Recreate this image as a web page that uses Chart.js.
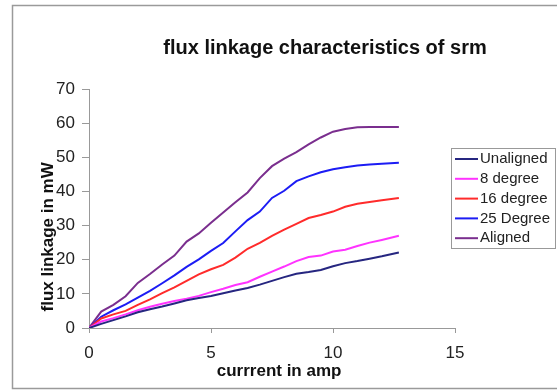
<!DOCTYPE html>
<html>
<head>
<meta charset="utf-8">
<script src="https://cdn.jsdelivr.net/npm/chart.js@4.4.0/dist/chart.umd.min.js"></script>
<style>
  html, body { margin: 0; padding: 0; background: #fff; overflow: hidden; width: 557px; height: 392px; }
  #wrap { position: absolute; left: 0; top: 0; width: 650px; height: 392px; }
</style>
</head>
<body>
<div id="wrap"><canvas id="fluxChart" width="650" height="392"></canvas></div>
<script>
// current in amp (x values shared by every curve)
const current = [0, 0.5, 1, 1.5, 2, 2.5, 3, 3.5, 4, 4.5, 5, 5.5, 6, 6.5, 7, 7.5, 8, 8.5, 9, 9.5, 10, 10.5, 11, 11.5, 12, 12.7];

// flux linkage in mW
const unaligned = [0, 1.2, 2.3, 3.4, 4.6, 5.5, 6.3, 7.2, 8.1, 8.8, 9.4, 10.2, 11.0, 11.7, 12.7, 13.8, 14.9, 15.9, 16.4, 17.0, 18.1, 19.0, 19.6, 20.3, 21.0, 22.1];
const deg8      = [0, 1.9, 2.9, 4.0, 5.2, 6.2, 7.1, 7.9, 8.6, 9.4, 10.5, 11.5, 12.6, 13.4, 15.0, 16.5, 18.0, 19.6, 20.8, 21.2, 22.4, 22.9, 24.0, 25.0, 25.8, 27.0];
const deg16     = [0, 2.8, 4.0, 5.0, 6.8, 8.4, 10.2, 11.9, 13.8, 15.7, 17.2, 18.5, 20.6, 23.2, 24.9, 27.0, 28.8, 30.5, 32.2, 33.1, 34.1, 35.5, 36.4, 36.9, 37.4, 38.1];
const deg25     = [0, 3.3, 5.2, 6.9, 8.9, 10.9, 13.1, 15.4, 17.9, 20.1, 22.6, 24.9, 28.3, 31.6, 34.1, 38.1, 40.2, 43.0, 44.4, 45.6, 46.5, 47.1, 47.6, 47.9, 48.1, 48.4];
const aligned   = [0, 4.8, 6.8, 9.3, 13.2, 15.8, 18.6, 21.2, 25.3, 27.7, 30.8, 33.8, 36.8, 39.7, 43.9, 47.4, 49.6, 51.5, 53.8, 55.8, 57.5, 58.3, 58.8, 58.9, 58.9, 58.9];

const seriesNames = ['Unaligned', '8 degree', '16 degree', '25 Degree', 'Aligned'];
const seriesData = [unaligned, deg8, deg16, deg25, aligned];
const seriesColors = ['#262680', '#ff33ff', '#ff2b2b', '#1c1cf4', '#7a2e8e'];

const xTicks = [0, 5, 10, 15];
const yMax = 70;

const FONT = 'Liberation Sans, Arial, sans-serif';

// white page + the grey chart frame
const framePlugin = {
  id: 'frame',
  beforeDraw(chart) {
    const c = chart.ctx;
    c.save();
    c.fillStyle = '#fff';
    c.fillRect(0, 0, chart.width, chart.height);
    c.restore();
  },
  afterDraw(chart) {
    const c = chart.ctx;
    c.save();
    c.strokeStyle = '#9a9a9a';
    c.lineWidth = 1.5;
    c.strokeRect(12.5, 5.5, 625, 383);
    c.restore();
  }
};

// boxed legend like the excel one, drawn from the datasets
const boxLegend = {
  id: 'boxLegend',
  afterDraw(chart) {
    const c = chart.ctx;
    const left = 451, top = 148, w = 104, h = 100;
    c.save();
    c.strokeStyle = '#999';
    c.lineWidth = 1;
    c.strokeRect(left + 0.5, top + 0.5, w, h);
    c.font = '15px ' + FONT;
    c.textBaseline = 'middle';
    chart.data.datasets.forEach((ds, i) => {
      const y = top + 11 + i * 19.8;
      c.strokeStyle = ds.borderColor;
      c.lineWidth = 2;
      c.beginPath();
      c.moveTo(455, y);
      c.lineTo(478, y);
      c.stroke();
      c.fillStyle = '#222';
      c.fillText(ds.label, 480, y);
    });
    c.restore();
  }
};

const datasets = seriesNames.map((name, i) => ({
  label: name,
  data: current.map((x, j) => ({ x: x, y: seriesData[i][j] })),
  borderColor: seriesColors[i],
  backgroundColor: seriesColors[i],
  borderWidth: 2,
  pointRadius: 0,
  tension: 0,
  fill: false
}));

const ctx = document.getElementById('fluxChart').getContext('2d');
const myChart = new Chart(ctx, {
  type: 'line',
  data: { datasets: datasets },
  options: {
    responsive: false,
    animation: false,
    layout: { padding: 0 },
    plugins: {
      legend: { display: false },
      tooltip: { enabled: false },
      title: {
        display: true,
        text: 'flux linkage characteristics of srm',
        color: '#111',
        font: { family: FONT, size: 20, weight: 'bold' },
        padding: { top: 36, bottom: 29 }
      }
    },
    scales: {
      x: {
        type: 'linear',
        min: 0,
        max: 15,
        afterBuildTicks: (s) => { s.ticks = xTicks.map(v => ({ value: v })); },
        afterFit: (s) => { s.height = 64; },
        grid: { display: true, drawOnChartArea: false, drawTicks: true, tickLength: 5, color: '#999' },
        border: { display: true, color: '#999', width: 1 },
        ticks: { color: '#222', font: { family: FONT, size: 17 }, padding: 10, maxRotation: 0 },
        title: {
          display: true,
          text: '   currrent in amp',
          color: '#111',
          font: { family: FONT, size: 17, weight: 'bold' },
          padding: { top: 0, bottom: 10 }
        }
      },
      y: {
        min: 0,
        max: yMax,
        afterFit: (s) => { s.width = 89; },
        grid: { display: true, drawOnChartArea: false, drawTicks: true, tickLength: 7, color: '#999' },
        border: { display: true, color: '#999', width: 1 },
        ticks: { stepSize: 10, color: '#222', font: { family: FONT, size: 17 }, padding: 7 },
        title: {
          display: true,
          text: 'flux linkage in mW            ',
          color: '#111',
          font: { family: FONT, size: 17, weight: 'bold' },
          padding: { top: 38, bottom: 0 }
        }
      },
      spacer: {
        position: 'right',
        display: true,
        afterFit: (s) => { s.width = 195; },
        grid: { display: false },
        border: { display: false },
        ticks: { display: false }
      }
    }
  },
  plugins: [framePlugin, boxLegend]
});
</script>
</body>
</html>
